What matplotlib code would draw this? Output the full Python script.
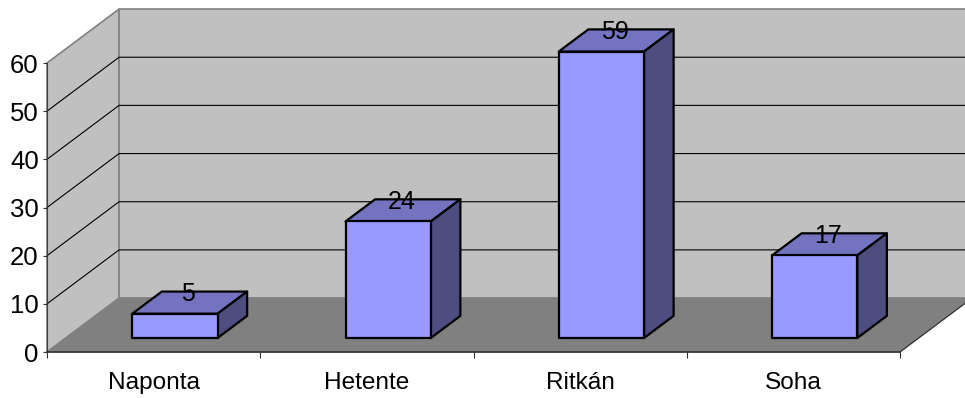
import matplotlib
matplotlib.use("Agg")
import matplotlib.pyplot as plt
from matplotlib.patches import Polygon

plt.rcParams['font.family'] = ['Liberation Sans', 'DejaVu Sans']

categories = ["Naponta", "Hetente", "Ritkán", "Soha"]
values = [5, 24, 59, 17]
y_ticks = [0, 10, 20, 30, 40, 50, 60]

# depth of the fake 3d box, in data units
depth_x = 0.338
depth_y = 11.2
bar_front = 0.26
bar_back = 0.67
bar_width = 0.4
bar_shift = 0.012
bar_scale = 1.008
font_size = 17.6


def proj(x, y, d):
    return (x + depth_x * d, y + depth_y * d)


def face(ax, pts, color, edge='black', lw=1.6, z=2):
    ax.add_patch(Polygon(pts, closed=True, facecolor=color, edgecolor=edge,
                         linewidth=lw, zorder=z, clip_on=False, joinstyle='round'))


fig = plt.figure(figsize=(9.65, 3.98), dpi=100)
ax = fig.add_axes([47 / 965, 1 - 352 / 398, 853 / 965, 289 / 398])
ax.set_xlim(0, 4)
ax.set_ylim(0, 60)

# walls and floor
face(ax, [proj(0, 0, 0), proj(0, 0, 1), proj(0, 60, 1), proj(0, 60, 0)], '#C0C0C0', '#808080', 1.2, 0)
face(ax, [proj(0, 0, 1), proj(4, 0, 1), proj(4, 60, 1), proj(0, 60, 1)], '#C0C0C0', '#808080', 1.2, 0)
face(ax, [proj(0, 0, 0), proj(4, 0, 0), proj(4, 0, 1), proj(0, 0, 1)], '#808080', '#808080', 0.5, 0.5)
ax.plot(*zip(proj(4, 0, 0), proj(4, 0, 1)), color='#333333', lw=0.9, zorder=1, clip_on=False)

for t in y_ticks[1:-1]:
    ax.plot(*zip(proj(0, t, 0), proj(0, t, 1), proj(4, t, 1)), color='black', lw=0.8, zorder=1, clip_on=False)

# bars
for i, v in enumerate(values):
    x0 = i + 0.5 + bar_shift - bar_width / 2
    x1 = i + 0.5 + bar_shift + bar_width / 2
    h = v * bar_scale
    face(ax, [proj(x0, h, bar_front), proj(x1, h, bar_front), proj(x1, h, bar_back), proj(x0, h, bar_back)], '#7373BF')
    face(ax, [proj(x1, 0, bar_front), proj(x1, 0, bar_back), proj(x1, h, bar_back), proj(x1, h, bar_front)], '#4D4D80')
    face(ax, [proj(x0, 0, bar_front), proj(x1, 0, bar_front), proj(x1, h, bar_front), proj(x0, h, bar_front)], '#9999FF')
    lx = proj(i + 0.5 + bar_shift, h, (bar_front + bar_back) / 2)[0]
    ly = proj(i + 0.5, h, bar_back)[1]
    ax.annotate(str(v), (lx, ly), xytext=(-1.2, -1.8), textcoords='offset points', ha='center', va='center',
                fontsize=18, color='black', zorder=3, annotation_clip=False)

ax.patch.set_visible(False)
for s in ['top', 'right']:
    ax.spines[s].set_visible(False)
ax.spines['left'].set_color('#404040')
ax.spines['left'].set_linewidth(0.8)
ax.spines['bottom'].set_color('#303030')
ax.spines['bottom'].set_linewidth(1.2)
ax.spines['left'].set_zorder(1.5)

ax.set_yticks(y_ticks)
ax.set_xticks(range(5))
ax.set_xticklabels([])
ax.set_xticks([i + 0.5 for i in range(4)], labels=categories, minor=True)
ax.tick_params(axis='x', which='major', length=4, width=0.8, color='#303030')
ax.tick_params(axis='x', which='minor', length=0, pad=14.5, labelsize=font_size)
ax.tick_params(axis='y', length=3, width=0.8, pad=3, labelsize=18.5, color='#303030')

fig.savefig("out.png", dpi=100)
